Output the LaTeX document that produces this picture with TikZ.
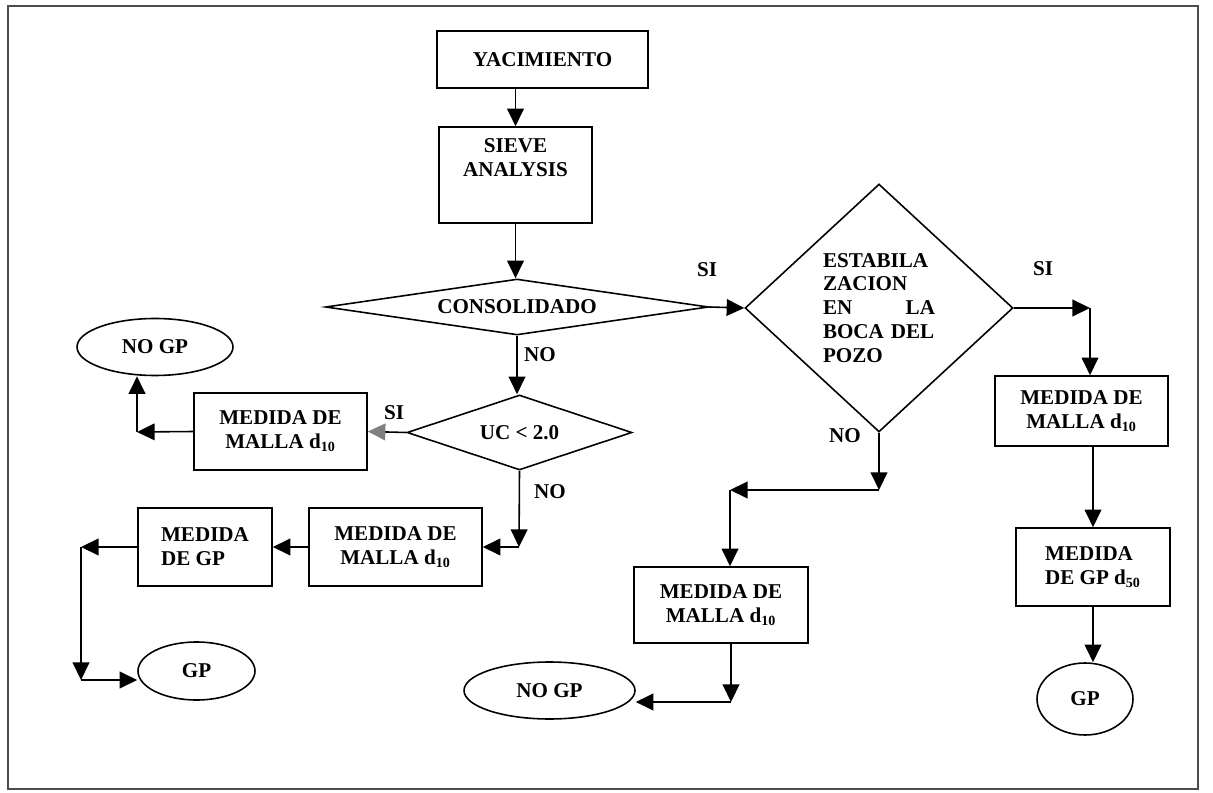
\documentclass[tikz,border=0pt]{standalone}
\usepackage{fontspec}
\setmainfont{Liberation Serif}
\usetikzlibrary{shapes.geometric,arrows.meta}

\begin{document}
\begin{tikzpicture}[x=0.02cm,y=-0.02cm,
    every node/.style={font=\fontsize{12}{13.6}\selectfont\bfseries},
    box/.style={draw,line width=0.9pt,align=center,inner sep=0pt},
    oval/.style={draw,ellipse,line width=0.9pt,inner sep=0pt},
    cond/.style={draw,diamond,line width=0.9pt,inner sep=0pt,align=center},
    arr/.style={-{Triangle[length=10pt,width=9.5pt]},line width=0.9pt},
    arrg/.style={-{Triangle[length=10pt,width=9.5pt,color=black!50]},line width=0.9pt},
    lbl/.style={inner sep=0pt}]
        \useasboundingbox (0,0) rectangle (1213,793);
        \draw[line width=0.6pt,black!70] (8,6) rectangle (1198,789);

        \node[box,minimum width=4.22cm,minimum height=1.14cm] (yac) at (542.5,59.5) {YACIMIENTO};
        \node[box,minimum width=3.06cm,minimum height=1.92cm] (sieve) at (515.5,175) {};
        \node[lbl,align=center] (sievetxt) at (515.5,158) {SIEVE\\ANALYSIS};
        \node[cond,minimum width=7.66cm,minimum height=1.12cm,shape aspect=6.8] (cons) at (517,307) {CONSOLIDADO};
        \node[cond,minimum width=4.5cm,minimum height=1.5cm,shape aspect=3] (uc) at (519.5,432.5) {UC < 2.0};

        \node[box,minimum width=3.46cm,minimum height=1.54cm] (mallaA) at (280.5,431.5) {MEDIDA DE\\MALLA d\textsubscript{10}};
        \node[oval,minimum width=3.12cm,minimum height=1.14cm] (nogpA) at (155,347) {NO GP};
        \node[box,minimum width=3.46cm,minimum height=1.56cm] (mallaB) at (395.5,547) {MEDIDA DE\\MALLA d\textsubscript{10}};
        \node[box,minimum width=2.68cm,minimum height=1.56cm,align=left] (gpA) at (205,547) {MEDIDA\\DE GP};
        \node[oval,minimum width=2.34cm,minimum height=1.16cm] (gpoA) at (196.5,671) {GP};

        \node[cond,minimum width=5.36cm,minimum height=4.96cm,align=left,text width=2.24cm] (estab) at (879,308) {ESTABILA\\ZACION\\EN\hfill LA\\BOCA DEL\\POZO};
        \node[box,minimum width=3.46cm,minimum height=1.4cm] (mallaC) at (1081.5,411) {MEDIDA DE\\MALLA d\textsubscript{10}};
        \node[box,minimum width=3.08cm,minimum height=1.56cm,align=left] (gpB) at (1093,567) {MEDIDA\\DE GP d\textsubscript{50}};
        \node[oval,minimum width=1.92cm,minimum height=1.44cm] (gpoB) at (1085,699) {GP};
        \node[box,minimum width=3.48cm,minimum height=1.52cm] (mallaD) at (721,605) {MEDIDA DE\\MALLA d\textsubscript{10}};
        \node[oval,minimum width=3.42cm,minimum height=1.14cm] (nogpB) at (549.5,690.5) {NO GP};

        \coordinate (c1) at (137,432);
        \coordinate (c2) at (519,547);
        \coordinate (c3) at (81,547);
        \coordinate (c4) at (81,680);
        \coordinate (c5) at (1090,308);
        \coordinate (c6) at (879,490);
        \coordinate (c7) at (730,490);
        \coordinate (c8) at (731,702);

        \draw[arr] (sieve.north |- yac.south) -- (sieve.north);
        \draw[arr] (sieve.south) -- (sieve.south |- cons.north);
        \draw[arr] (cons.south) -- (cons.south |- uc.north);
        \draw[arrg] (uc.west) -- (mallaA.east);
        \draw[arr] (mallaA.west) -- (c1);
        \draw[arr] (c1) -- (c1 |- nogpA.south);
        \draw[arr] (uc.south) -- (c2);
        \draw[arr] (c2) -- (mallaB.east);
        \draw[arr] (mallaB.west) -- (gpA.east);
        \draw[arr] (gpA.west) -- (c3);
        \draw[arr] (c3) -- (c4);
        \draw[arr] (c4) -- (c4 -| gpoA.west);

        \draw[arr] (cons.east) -- (estab.west);
        \draw[arr] (estab.east) -- (c5);
        \draw[arr] (c5) -- (c5 |- mallaC.north);
        \draw[arr] (gpB.north |- mallaC.south) -- (gpB.north);
        \draw[arr] (gpB.south) -- (gpB.south |- gpoB.north);
        \draw[arr] (estab.south) -- (c6);
        \draw[arr] (c6) -- (c7);
        \draw[arr] (c7) -- (c7 |- mallaD.north);
        \draw[arr] (c8 |- mallaD.south) -- (c8);
        \draw[arr] (c8) -- (c8 -| nogpB.east);

        \node[lbl] (siA) at (394,413) {SI};
        \node[lbl] (noA) at (540,355) {NO};
        \node[lbl] (noB) at (550,492) {NO};
        \node[lbl] (siB) at (707,270) {SI};
        \node[lbl] (siC) at (1043,269) {SI};
        \node[lbl] (noC) at (845,436) {NO};
    \end{tikzpicture}
\end{document}
